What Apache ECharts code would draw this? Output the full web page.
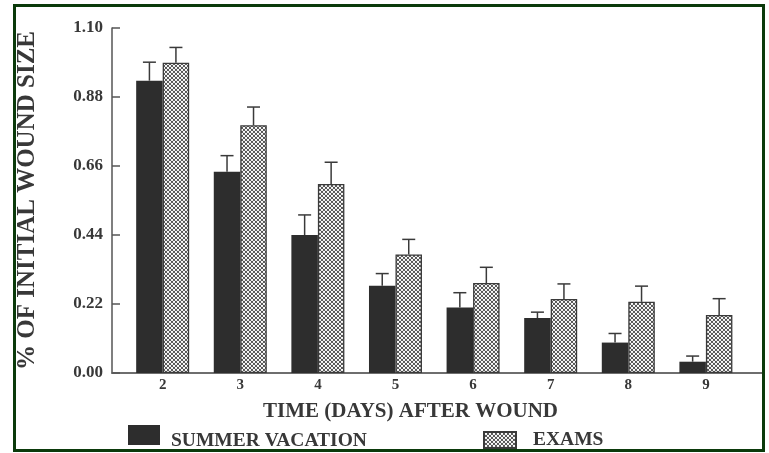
<!DOCTYPE html>
<html>
<head>
<meta charset="utf-8">
<script src="https://cdn.jsdelivr.net/npm/echarts@6/dist/echarts.min.js"></script>
<style>
  html, body { margin: 0; padding: 0; background: #fff; }
  #chart { width: 769px; height: 453px; }
  #frame {
    position: absolute; left: 13px; top: 4px; width: 752px; height: 448px;
    box-sizing: border-box; border: 3px solid #0b3a0b; pointer-events: none;
  }
</style>
</head>
<body>
<div id="chart"></div>
<div id="frame"></div>
<script>
// Healing time course: fraction of initial wound size by day after wounding
const days = [2, 3, 4, 5, 6, 7, 8, 9];
const summerVacation = [0.932, 0.642, 0.440, 0.278, 0.209, 0.175, 0.097, 0.036];
const summerVacationErr = [0.059, 0.051, 0.064, 0.039, 0.047, 0.019, 0.029, 0.018];
const exams = [0.989, 0.790, 0.603, 0.378, 0.287, 0.236, 0.227, 0.185];
const examsErr = [0.049, 0.058, 0.069, 0.048, 0.050, 0.048, 0.050, 0.052];
const seriesNames = ['SUMMER VACATION', 'EXAMS'];
const xTitle = 'TIME (DAYS) AFTER WOUND';
const yTitle = '% OF INITIAL WOUND SIZE';

const SERIF = '"Liberation Serif", "DejaVu Serif", serif';
const INK = '#383838';
const BAR_W = 26.5;

// cross-hatch fill for the exam bars
function makeHatch() {
  const c = document.createElement('canvas');
  c.width = 4; c.height = 4;
  const g = c.getContext('2d');
  g.fillStyle = '#474747';
  g.fillRect(0, 0, 4, 4);
  g.fillStyle = '#ffffff';
  [[0, 0], [4, 0], [0, 4], [4, 4], [2, 2]].forEach(([x, y]) => {
    g.beginPath(); g.arc(x, y, 1.15, 0, Math.PI * 2); g.fill();
  });
  return c;
}
const hatch = { image: makeHatch(), repeat: 'repeat' };

const pairs = (vals) => days.map((d, i) => [d, vals[i]]);
const errData = (vals, errs) => days.map((d, i) => [d, vals[i], errs[i]]);

// error whisker: stem from bar top up to value + err, with a cap
function whisker(shift) {
  return function (params, api) {
    const x = api.value(0), v = api.value(1), e = api.value(2);
    const base = api.coord([x, v]);
    const top = api.coord([x, v + e]);
    const cx = base[0] + shift;
    const style = { stroke: '#3a3a3a', lineWidth: 1.5 };
    return {
      type: 'group',
      children: [
        { type: 'line', shape: { x1: cx, y1: base[1], x2: cx, y2: top[1] }, style },
        { type: 'line', shape: { x1: cx - 6.5, y1: top[1], x2: cx + 6.5, y2: top[1] }, style }
      ]
    };
  };
}

const legendText = (pad) => ({
  fontFamily: SERIF, fontWeight: 'bold', fontSize: 19.5, color: INK, padding: pad
});

const chart = echarts.init(document.getElementById('chart'), null, { renderer: 'canvas' });
chart.setOption({
  animation: false,
  backgroundColor: '#ffffff',
  grid: { left: 112, right: 7, top: 28, bottom: 80, containLabel: false },
  xAxis: {
    type: 'value',
    min: 1.347, max: 9.723,
    splitLine: { show: false },
    axisTick: { show: false },
    axisLine: { show: true, onZero: false, lineStyle: { color: '#6e6e6e', width: 2 } },
    axisLabel: {
      customValues: days,
      margin: 5,
      fontFamily: SERIF, fontWeight: 'bold', fontSize: 15, color: INK
    },
    name: xTitle,
    nameLocation: 'middle',
    nameGap: 28,
    nameTextStyle: {
      fontFamily: SERIF, fontWeight: 'bold', fontSize: 21, color: INK,
      padding: [0, 53, 0, 0]
    }
  },
  yAxis: {
    type: 'value',
    min: 0, max: 1.10, interval: 0.22,
    splitLine: { show: false },
    axisLine: { show: true, lineStyle: { color: '#555', width: 1.5 } },
    axisTick: { show: true, inside: true, length: 8, lineStyle: { color: '#555', width: 1.5 } },
    axisLabel: {
      margin: 9,
      formatter: (v) => v.toFixed(2),
      fontFamily: SERIF, fontWeight: 'bold', fontSize: 17, color: INK
    },
    name: yTitle,
    nameLocation: 'middle',
    nameRotate: 90,
    nameGap: 72,
    nameTextStyle: { fontFamily: SERIF, fontWeight: 'bold', fontSize: 25, color: INK }
  },
  legend: [
    {
      data: [seriesNames[0]],
      left: 128, top: 425, padding: 0,
      // filled swatch in the upper part of a taller key box, so the label sits lower
      icon: 'path://M0,0H32V20H0Z M0,31L0.01,31',
      itemWidth: 32, itemHeight: 31,
      selectedMode: false,
      textStyle: legendText([0, 0, 0, 6])
    },
    {
      data: [seriesNames[1]],
      left: 483, top: 430, padding: 0,
      icon: 'rect',
      itemWidth: 32, itemHeight: 16,
      selectedMode: false,
      textStyle: legendText([0, 0, 0, 12])
    }
  ],
  series: [
    {
      name: seriesNames[0],
      type: 'bar',
      barWidth: BAR_W,
      barGap: '0%',
      data: pairs(summerVacation),
      itemStyle: { color: '#2d2d2d', borderColor: '#2d2d2d', borderWidth: 0 }
    },
    {
      name: seriesNames[1],
      type: 'bar',
      barWidth: BAR_W,
      barGap: '0%',
      data: pairs(exams),
      itemStyle: { color: hatch, borderColor: '#3a3a3a', borderWidth: 1.3 }
    },
    {
      type: 'custom',
      renderItem: whisker(-BAR_W / 2),
      data: errData(summerVacation, summerVacationErr),
      z: 5, silent: true
    },
    {
      type: 'custom',
      renderItem: whisker(BAR_W / 2),
      data: errData(exams, examsErr),
      z: 5, silent: true
    }
  ]
});
</script>
</body>
</html>
